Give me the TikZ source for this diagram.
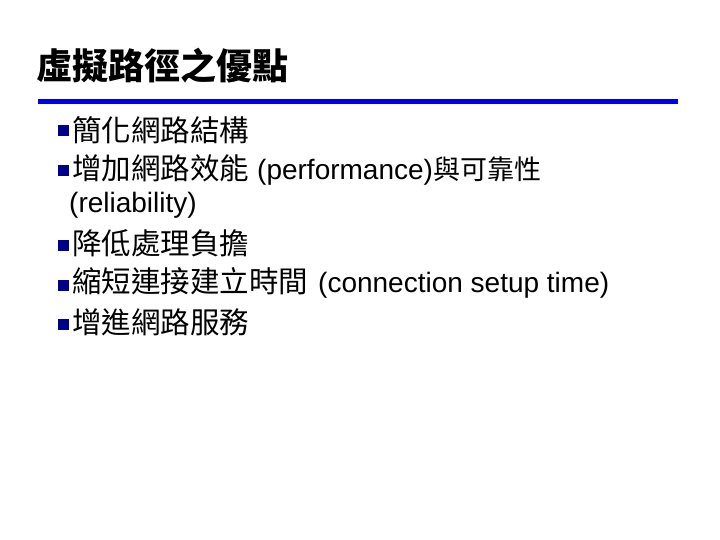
\documentclass[tikz,border=0pt]{standalone}
\usepackage{fontspec}
\setmainfont{Liberation Sans}
\newfontfamily\cjk{Noto Sans CJK TC}
\newcommand{\lat}{\rmfamily\fontsize{28}{30}\selectfont}
\begin{document}
\begin{tikzpicture}[x=1pt,y=-1pt,
  txt/.style={anchor=west,inner sep=0pt,font=\fontsize{29.5}{32}\selectfont},
  bul/.style={fill=blue!55!black,minimum size=11pt,inner sep=0pt}]
\useasboundingbox (0,0) rectangle (720,540);
\node[anchor=west,inner sep=0pt,font=\fontsize{36}{40}\selectfont\cjk\bfseries] (title) at (36,66) {虛擬路徑之優點};
\fill[blue!90!black] (38,99) rectangle (678,104);
\node[bul] (b1) at (63,131) {};
\node[txt] (t1) at (72,130) {\cjk 簡化網路結構};
\node[bul] (b2) at (63,171) {};
\node[txt] (t2) at (72,170) {\cjk 增加網路效能\hspace{8pt}\lat(performance)\cjk\fontsize{27}{30}\selectfont 與可靠性};
\node[txt] (t2b) at (69,205) {\lat(reliability)};
\node[bul] (b3) at (63,245) {};
\node[txt] (t3) at (72,243) {\cjk 降低處理負擔};
\node[bul] (b4) at (63,285) {};
\node[txt] (t4) at (72,283) {\cjk 縮短連接建立時間\hspace{10pt}\lat(connection setup time)};
\node[bul] (b5) at (63,324) {};
\node[txt] (t5) at (72,322) {\cjk 增進網路服務};
\end{tikzpicture}
\end{document}
